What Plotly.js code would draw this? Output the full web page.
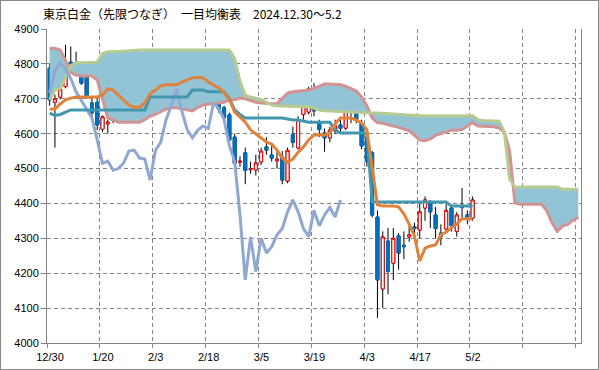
<!DOCTYPE html>
<html><head><meta charset="utf-8">
<script src="https://cdn.plot.ly/plotly-3.0.1.min.js"></script>
<style>body{margin:0;background:#fff;} #c{width:597px;height:368px;border:1px solid #8a8a8a;}</style>
</head><body><div id="c"></div>
<script>
const tickLabels = ["12/30","1/20","2/3","2/18","3/5","3/19","4/3","4/17","5/2","",""];
const openP = [4788,4690,4705,4735,4805,4802,4795,4762,4688,4690,
4613,4628,4638,4705,4654,4674,4662,4688,4692,4725,
4782,4754,4745,4730,4728,4731,4734,4782,4803,4774,
4740,4717,4688,4674,4654,4590,4518,4545,4497,4496,
4519,4562,4539,4522,4533,4464,4598,4559,4655,4662,
4728,4630,4602,4588,4608,4625,4616,4690,4680,4630,
4590,4545,4361,4155,4292,4229,4307,4280,4304,4333,
4324,4387,4404,4367,4315,4327,4387,4320,4392,4367,
4358];
const highP = [4800,4712,4765,4855,4850,4835,4800,4770,4700,4700,
4652,4640,4720,4720,4690,4700,4700,4720,4740,4820,
4830,4765,4760,4750,4745,4750,4790,4810,4815,4780,
4750,4725,4695,4680,4660,4600,4535,4560,4520,4540,
4560,4590,4570,4555,4550,4560,4620,4650,4690,4735,
4745,4640,4615,4620,4640,4640,4700,4700,4725,4640,
4600,4550,4380,4320,4330,4330,4315,4320,4335,4345,
4400,4420,4410,4390,4340,4400,4395,4375,4444,4380,
4420];
const lowP = [4680,4560,4698,4730,4790,4780,4740,4700,4640,4610,
4605,4600,4630,4660,4640,4650,4650,4675,4685,4715,
4720,4720,4715,4720,4720,4710,4730,4775,4775,4750,
4710,4680,4660,4630,4570,4500,4505,4455,4485,4480,
4510,4540,4520,4500,4455,4458,4560,4555,4640,4655,
4650,4590,4548,4575,4600,4605,4610,4630,4630,4555,
4505,4360,4072,4100,4140,4180,4210,4240,4290,4300,
4300,4350,4330,4300,4280,4320,4320,4305,4360,4340,
4350];
const closeP = [4697,4700,4728,4805,4800,4795,4745,4705,4660,4625,
4648,4633,4705,4668,4674,4662,4692,4695,4720,4815,
4731,4740,4725,4735,4732,4717,4780,4803,4785,4758,
4720,4695,4670,4645,4582,4515,4521,4495,4500,4516,
4550,4553,4530,4527,4467,4552,4575,4639,4680,4728,
4665,4612,4588,4610,4622,4615,4688,4672,4640,4565,
4520,4367,4181,4304,4205,4300,4258,4276,4310,4328,
4376,4410,4376,4328,4305,4380,4336,4367,4388,4361,
4410];
const tenkan = [4671,4671,4685,4697,4702,4705,4705,4705,4705,4705,
4711,4728,4725,4711,4697,4682,4676,4676,4688,4714,
4725,4737,4740,4740,4740,4748,4754,4760,4762,4760,
4748,4740,4731,4717,4697,4662,4648,4633,4611,4599,
4588,4576,4570,4553,4530,4519,4527,4547,4562,4582,
4596,4596,4596,4602,4628,4645,4645,4645,4639,4631,
4611,4510,4396,4393,4393,4393,4390,4370,4341,4307,
4235,4272,4278,4281,4310,4318,4330,4341,4356,4356,
4356];
const kijun = [4659,4652,4655,4662,4668,4668,4668,4668,4668,4668,
4668,4668,4668,4668,4668,4668,4668,4668,4668,4705,
4705,4705,4705,4705,4705,4705,4705,4725,4725,4725,
4720,4720,4720,4720,4700,4668,4655,4645,4645,4645,
4645,4645,4645,4645,4645,4642,4639,4639,4636,4633,
4633,4633,4633,4633,4610,4602,4602,4602,4602,4602,
4602,4404,4404,4404,4404,4404,4404,4404,4404,4404,
4404,4404,4404,4404,4404,4404,4393,4393,4393,4393,
4393];
const chikou = [4717,4780,4803,4785,4758,4720,4695,4670,4645,4582,
4515,4521,4495,4500,4516,4550,4553,4530,4527,4467,
4552,4575,4639,4680,4728,4665,4612,4588,4610,4622,
4615,4688,4672,4640,4565,4520,4367,4181,4304,4205,
4300,4258,4276,4310,4328,4376,4410,4376,4328,4305,
4380,4336,4367,4388,4361,4410];
const spanA = [4697,4725,4730,4760,4795,4803,4803,4803,4803,4805,
4830,4835,4835,4835,4836,4838,4840,4840,4840,4840,
4840,4840,4840,4840,4840,4840,4840,4840,4840,4840,
4840,4840,4840,4840,4840,4815,4750,4709,4705,4702,
4698,4690,4682,4680,4680,4680,4679,4678,4677,4677,
4673,4668,4666,4665,4665,4664,4663,4662,4661,4660,
4660,4659,4659,4658,4656,4655,4654,4652,4651,4651,
4651,4651,4651,4651,4651,4651,4651,4651,4651,4651,
4651,4640,4637,4637,4637,4636,4605,4470,4447,4447,
4447,4447,4447,4447,4447,4447,4447,4441,4441,4441,
4441];
const spanB = [4845,4845,4840,4810,4775,4768,4765,4765,4765,4754,
4700,4645,4640,4633,4633,4633,4633,4633,4640,4650,
4655,4662,4670,4674,4674,4671,4668,4665,4675,4682,
4684,4685,4688,4690,4697,4697,4702,4700,4694,4690,
4688,4686,4686,4686,4700,4716,4720,4722,4724,4725,
4730,4737,4742,4742,4742,4740,4736,4730,4722,4705,
4680,4645,4632,4630,4625,4622,4618,4614,4608,4595,
4582,4580,4585,4595,4600,4605,4610,4610,4612,4622,
4632,4622,4622,4622,4620,4616,4605,4550,4401,4398,
4398,4398,4398,4398,4380,4345,4320,4335,4340,4352,
4360];

const xs = n => Array.from({length:n}, (_, i) => i);
const xC = xs(openP.length);
const bodyHi = openP.map((o,i)=>Math.max(o, closeP[i]));
const bodyLo = openP.map((o,i)=>Math.min(o, closeP[i]));

const traces = [
  {type:'scatter', mode:'lines', x: xs(spanB.length), y: spanB, line:{width:0, color:'rgba(0,0,0,0)'}, hoverinfo:'skip'},
  {type:'scatter', mode:'lines', x: xs(spanA.length), y: spanA, fill:'tonexty', fillcolor:'#93C4D6', line:{width:0, color:'rgba(0,0,0,0)'}, hoverinfo:'skip'},
  {type:'scatter', mode:'lines', x: xs(spanB.length), y: spanB, line:{width:3, color:'#D39393'}},
  {type:'scatter', mode:'lines', x: xs(spanA.length), y: spanA, line:{width:3, color:'#B6CB8F'}},
  {type:'scatter', mode:'lines', x: xs(chikou.length), y: chikou, line:{width:3, color:'#8EA8D2'}},
  {type:'candlestick', x:xC, open:openP, high:highP, low:lowP, close:closeP, whiskerwidth:0,
    increasing:{line:{color:'#000000', width:1}, fillcolor:'#000000'},
    decreasing:{line:{color:'#000000', width:1}, fillcolor:'#000000'}, hoverinfo:'skip'},
  {type:'candlestick', x:xC, open:openP, high:bodyHi, low:bodyLo, close:closeP, whiskerwidth:0,
    increasing:{line:{color:'#FF0000', width:1}, fillcolor:'#FFFFFF'},
    decreasing:{line:{color:'#0070C0', width:1}, fillcolor:'#0070C0'}, hoverinfo:'skip'},
  {type:'scatter', mode:'lines', x: xs(kijun.length), y: kijun, line:{width:3, color:'#4197AE'}},
  {type:'scatter', mode:'lines', x: xs(tenkan.length), y: tenkan, line:{width:3, color:'#E0823A'}}
];

const gridVals = tickLabels.map((_, k) => k*10 - 0.5);
const gcol = '#858585';
const layout = {
  width:597, height:368,
  margin:{l:46, r:17, t:28, b:26},
  paper_bgcolor:'#ffffff', plot_bgcolor:'#ffffff',
  showlegend:false,
  boxgap:0.2,
  title:{text:'東京白金（先限つなぎ）　一目均衡表　2024.12.30～5.2', x:42/597, xanchor:'left', xref:'container',
    y:1-14/368, yanchor:'middle', yref:'container', font:{family:'Noto Sans CJK JP', size:12, color:'#000'}},
  xaxis:{range:[-0.5,100.5], tickmode:'array', tickvals:gridVals, ticktext:tickLabels, ticklabelshift:3,
    showgrid:true, gridcolor:gcol, griddash:'4px,3px', gridwidth:1, showline:true, linecolor:gcol, linewidth:1,
    ticks:'outside', ticklen:4, tickcolor:gcol, zeroline:false, rangeslider:{visible:false},
    tickfont:{family:'Liberation Sans', size:11, color:'#000'}, fixedrange:true},
  yaxis:{range:[4000,4900], tick0:4000, dtick:100, showgrid:true, gridcolor:gcol, griddash:'4px,3px', gridwidth:1,
    showline:true, mirror:true, linecolor:gcol, linewidth:1, ticks:'outside', ticklen:5, tickcolor:gcol,
    zeroline:false, tickfont:{family:'Liberation Sans', size:11, color:'#000'}, fixedrange:true}
};
Plotly.newPlot('c', traces, layout, {staticPlot:true, displayModeBar:false});
</script></body></html>
